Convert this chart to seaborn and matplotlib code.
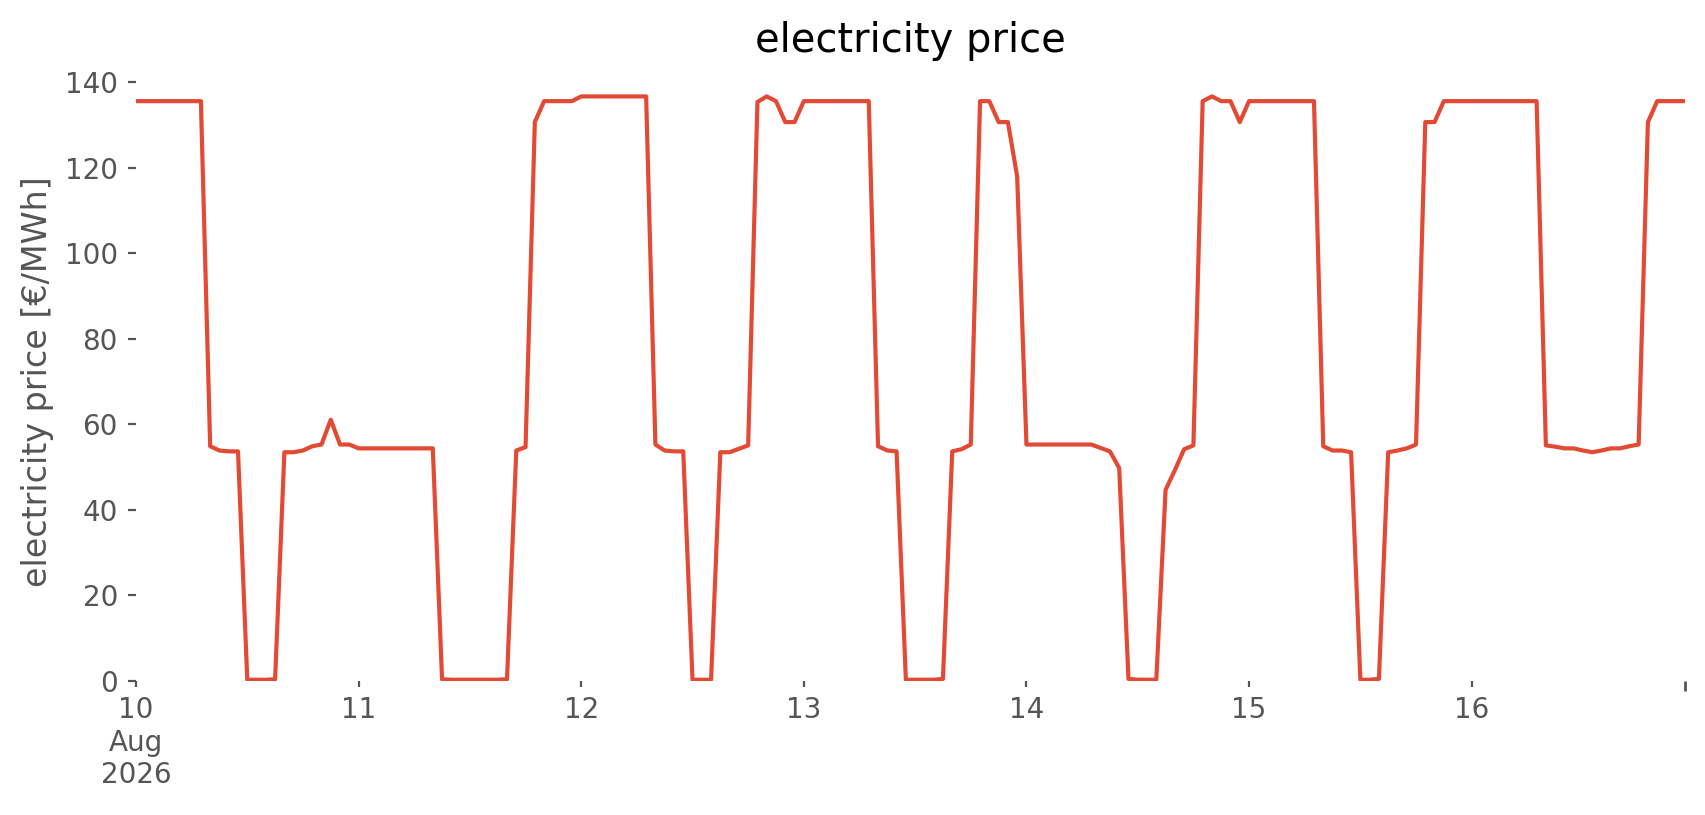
import matplotlib
matplotlib.use("Agg")
import matplotlib.pyplot as plt
import seaborn as sns
import pandas as pd

# hourly day-ahead prices [EUR/MWh], one list per day
aug10 = [135.6, 135.6, 135.6, 135.6, 135.6, 135.6, 135.6, 135.6,
         54.9, 53.9, 53.7, 53.7, 0.3, 0.3, 0.3, 0.4,
         53.5, 53.5, 53.9, 54.9, 55.3, 61.1, 55.3, 55.3]
aug11 = [54.4, 54.4, 54.4, 54.4, 54.4, 54.4, 54.4, 54.4,
         54.4, 0.4, 0.3, 0.3, 0.3, 0.3, 0.3, 0.3,
         0.4, 53.9, 54.7, 130.7, 135.6, 135.6, 135.6, 135.6]
aug12 = [136.7, 136.7, 136.7, 136.7, 136.7, 136.7, 136.7, 136.7,
         55.3, 53.9, 53.7, 53.7, 0.3, 0.3, 0.3, 53.5,
         53.5, 54.3, 55.1, 135.4, 136.7, 135.6, 130.7, 130.7]
aug13 = [135.6, 135.6, 135.6, 135.6, 135.6, 135.6, 135.6, 135.6,
         54.9, 53.9, 53.7, 0.3, 0.3, 0.3, 0.3, 0.5,
         53.7, 54.2, 55.3, 135.6, 135.6, 130.7, 130.7, 118.0]
aug14 = [55.3, 55.3, 55.3, 55.3, 55.3, 55.3, 55.3, 55.3,
         54.5, 53.7, 49.8, 0.5, 0.3, 0.3, 0.3, 44.7,
         49.3, 54.2, 55.1, 135.6, 136.7, 135.6, 135.6, 130.7]
aug15 = [135.6, 135.6, 135.6, 135.6, 135.6, 135.6, 135.6, 135.6,
         54.9, 53.9, 53.9, 53.5, 0.3, 0.3, 0.5, 53.5,
         53.9, 54.4, 55.3, 130.7, 130.7, 135.6, 135.6, 135.6]
aug16 = [135.6, 135.6, 135.6, 135.6, 135.6, 135.6, 135.6, 135.6,
         55.1, 54.8, 54.4, 54.4, 53.9, 53.5, 53.9, 54.4,
         54.4, 54.9, 55.3, 130.7, 135.6, 135.6, 135.6, 135.6]

prices = aug10 + aug11 + aug12 + aug13 + aug14 + aug15 + aug16
hours = pd.date_range("2026-08-10 00:00", periods=len(prices), freq="h")
df = pd.DataFrame({"time": hours, "price": prices})

day_ticks = pd.date_range("2026-08-10", "2026-08-16", freq="D")
day_labels = ["10\nAug\n2026", "11", "12", "13", "14", "15", "16"]

sns.set_style("white")
grey = "#555555"

fig, ax = plt.subplots(figsize=(8.53, 4.075), dpi=200)
fig.subplots_adjust(left=0.0797, right=0.9877, top=0.899, bottom=0.1644)

sns.lineplot(data=df, x="time", y="price", color="#E24A33", linewidth=1.5, ax=ax)

ax.set_xlim(hours[0], hours[-1])
ax.set_ylim(0, 140)
ax.set_yticks(range(0, 141, 20))
ax.set_xticks(day_ticks)
ax.set_xticklabels(day_labels)
ax.set_xticks([hours[-1]], minor=True)

ax.tick_params(axis="x", which="major", bottom=True, length=2, width=0.8,
               color=grey, labelcolor=grey, labelsize=10)
ax.tick_params(axis="x", which="minor", bottom=True, length=3.5, width=1.0, color=grey)
ax.tick_params(axis="y", left=True, length=3, width=0.8,
               color=grey, labelcolor=grey, labelsize=10)
for spine in ax.spines.values():
    spine.set_visible(False)

ax.set_xlabel("")
ax.set_ylabel("electricity price [€/MWh]", fontsize=12, color=grey)
ax.set_title("electricity price", fontsize=14.4, color="black", pad=11)

fig.savefig("out.png", dpi=200)
